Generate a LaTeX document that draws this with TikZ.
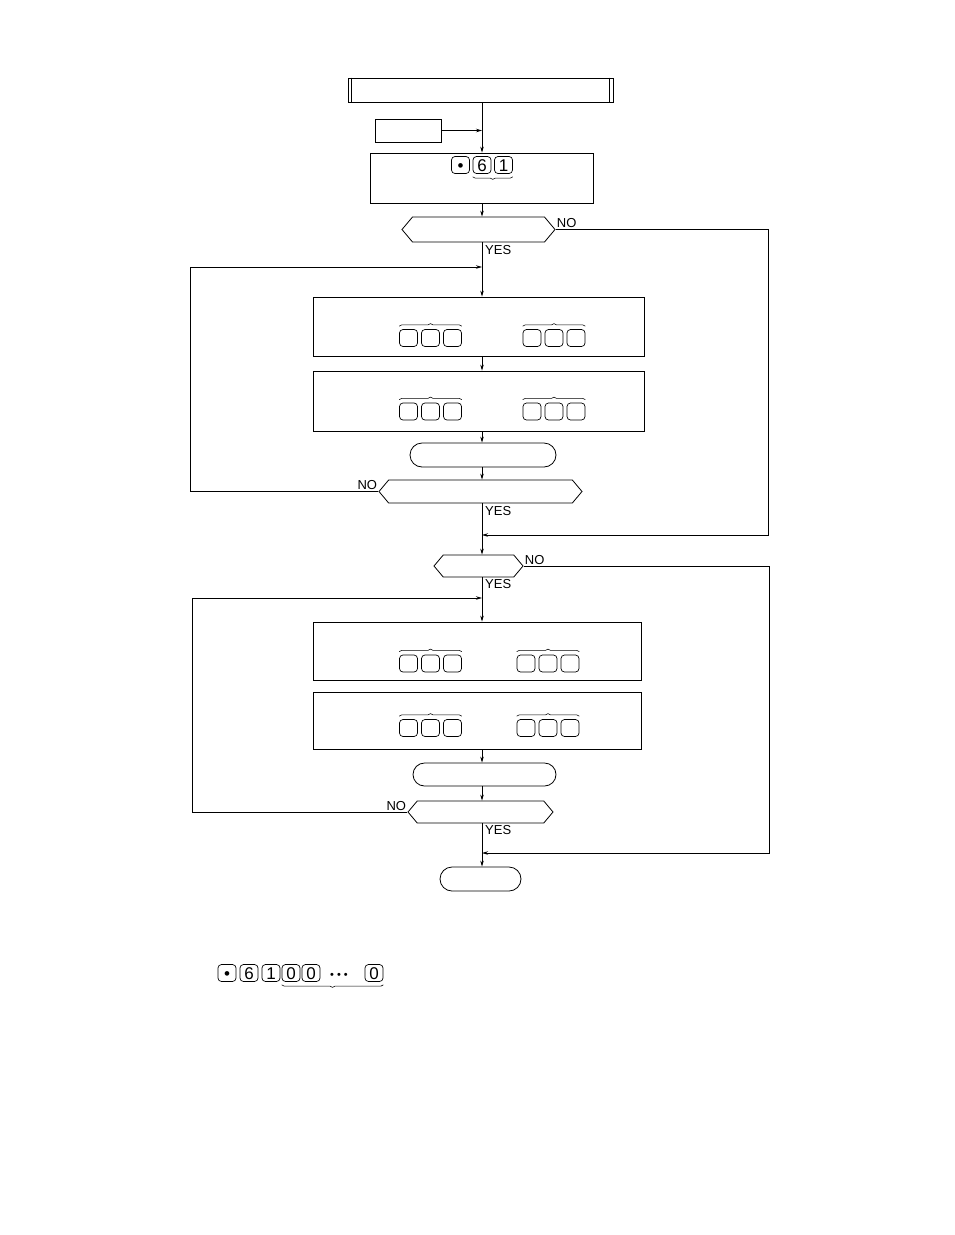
\documentclass[tikz,border=0pt]{standalone}
\usepackage{fontspec}
\setmainfont{Liberation Sans}
\usetikzlibrary{arrows.meta,shapes.misc,shapes.symbols,decorations.pathreplacing}

\tikzset{
  flow/.style={draw, line width=0.8pt, inner sep=0pt},
  procbox/.style={flow, rectangle},
  decision/.style={flow, signal, signal to=west and east, signal pointer angle=100},
  terminal/.style={flow, rounded rectangle},
  link/.style={line width=0.8pt, -{Stealth[length=6pt,width=3.5pt]}},
  wire/.style={line width=0.8pt},
  keycap/.style={draw, line width=0.7pt, rounded corners=3.5pt, minimum width=18, minimum height=17,
    inner sep=0pt, text height=12pt, text depth=0pt, font=\fontsize{17}{17}\selectfont},
  keybrace/.style={line width=0.6pt, decorate, decoration={brace, amplitude=2.5pt}},
  answer/.style={inner sep=1pt, font=\fontsize{13}{13}\selectfont}
}

% three blank keys with a brace above them
\newcommand{\blankkeys}[3]{%
  \foreach \i in {0,1,2}
    \node[keycap] (#1\i) at ({#2+22*\i},#3) {};
  \draw[keybrace] ([yshift=3pt]#10.north west) -- ([yshift=3pt]#12.north east);
}

\begin{document}
\begin{tikzpicture}[x=1pt, y=-1pt]
    \useasboundingbox (0,0) rectangle (954,1235);
    \coordinate (spine) at (482,0);

    % Title bar with doubled ends
    \node[procbox, minimum width=265, minimum height=24] (title) at (480.5,90) {};
    \draw[wire] ([xshift=4pt]title.north west) -- ([xshift=4pt]title.south west);
    \draw[wire] ([xshift=-4pt]title.north east) -- ([xshift=-4pt]title.south east);

    % Preset box and key entry
    \node[procbox, minimum width=66, minimum height=23] (preset) at (408,130.5) {};
    \node[procbox, minimum width=223, minimum height=50] (entry) at (481.5,178) {};
    \node[keycap] (kdot) at (460.5,165) {•};
    \node[keycap] (ksix) at (482,165) {6};
    \node[keycap] (kone) at (503.5,165) {1};
    \draw[keybrace] ([yshift=-3pt]kone.south east) -- ([yshift=-3pt]ksix.south west);

    % First test
    \node[decision, minimum width=153, minimum height=25] (test1) at (478.5,229.5) {};

    % First loop
    \node[procbox, minimum width=331, minimum height=59] (stepa) at (478.5,326.5) {};
    \blankkeys{ka}{408.5}{338}
    \blankkeys{kb}{532}{338}
    \node[procbox, minimum width=331, minimum height=60] (stepb) at (478.5,401) {};
    \blankkeys{kc}{408.5}{411.5}
    \blankkeys{kd}{532}{411.5}
    \node[terminal, minimum width=146, minimum height=24] (counta) at (483,455) {};
    \node[decision, minimum width=203, minimum height=23] (test2) at (480.5,491.5) {};

    % Second test
    \node[decision, minimum width=89, minimum height=22] (test3) at (478.5,566) {};

    % Second loop
    \node[procbox, minimum width=328, minimum height=58] (stepc) at (477,651) {};
    \blankkeys{ke}{408.5}{663.5}
    \blankkeys{kf}{526}{663.5}
    \node[procbox, minimum width=328, minimum height=57] (stepd) at (477,720.5) {};
    \blankkeys{kg}{408.5}{728}
    \blankkeys{kh}{526}{728}
    \node[terminal, minimum width=143, minimum height=23] (countb) at (484.5,774.5) {};
    \node[decision, minimum width=145, minimum height=22] (test4) at (480.5,812) {};

    % End
    \node[terminal, minimum width=81, minimum height=24] (stop) at (480.5,879) {};

    % Joins on the spine
    \coordinate (joina) at (482,267);
    \coordinate (joinb) at (482,535);
    \coordinate (joinc) at (482,598);
    \coordinate (joind) at (482,853);

    % Main line
    \draw[link] (title.south -| spine) -- (entry.north -| spine);
    \draw[link] (preset.east) -- (spine |- preset.east);
    \draw[link] (entry.south -| spine) -- (test1.north -| spine);
    \draw[link] (test1.south -| spine) -- (stepa.north -| spine);
    \draw[link] (stepa.south -| spine) -- (stepb.north -| spine);
    \draw[link] (stepb.south -| spine) -- (counta.north -| spine);
    \draw[link] (counta.south -| spine) -- (test2.north -| spine);
    \draw[link] (test2.south -| spine) -- (test3.north -| spine);
    \draw[link] (test3.south -| spine) -- (stepc.north -| spine);
    \draw[link] (stepd.south -| spine) -- (countb.north -| spine);
    \draw[link] (countb.south -| spine) -- (test4.north -| spine);
    \draw[link] (test4.south -| spine) -- (stop.north -| spine);

    % Branches
    \draw[link] (test1.east) node[answer, anchor=south west] {NO}
        -- (768,229.5) -- (768,535) -- (joinb);
    \draw[link] (test2.west) node[answer, anchor=south east] {NO}
        -- (190,491.5) -- (190,267) -- (joina);
    \draw[link] (test3.east) node[answer, anchor=south west] {NO}
        -- (769,566) -- (769,853) -- (joind);
    \draw[link] (test4.west) node[answer, anchor=south east] {NO}
        -- (192,812) -- (192,598) -- (joinc);

    \node[answer, anchor=north west] (yesa) at ([xshift=2pt,yshift=-2pt]test1.south -| spine) {YES};
    \node[answer, anchor=north west] (yesb) at ([xshift=2pt,yshift=-2pt]test2.south -| spine) {YES};
    \node[answer, anchor=north west] (yesc) at ([xshift=2pt,yshift=-1pt]test3.south -| spine) {YES};
    \node[answer, anchor=north west] (yesd) at ([xshift=2pt,yshift=-1pt]test4.south -| spine) {YES};

    % Key sequence below
    \node[keycap] (sdot) at (227,973) {•};
    \node[keycap] (ssix) at (249,973) {6};
    \node[keycap] (sone) at (271,973) {1};
    \node[keycap] (szra) at (291,973) {0};
    \node[keycap] (szrb) at (311,973) {0};
    \node[inner sep=0pt, font=\fontsize{11}{11}\selectfont] (sdots) at (339,976) {•\hspace{3pt}•\hspace{3pt}•};
    \node[keycap] (szrn) at (374,973) {0};
    \draw[keybrace] ([yshift=-3pt]szrn.south east) -- ([yshift=-3pt]szra.south west);
\end{tikzpicture}
\end{document}
